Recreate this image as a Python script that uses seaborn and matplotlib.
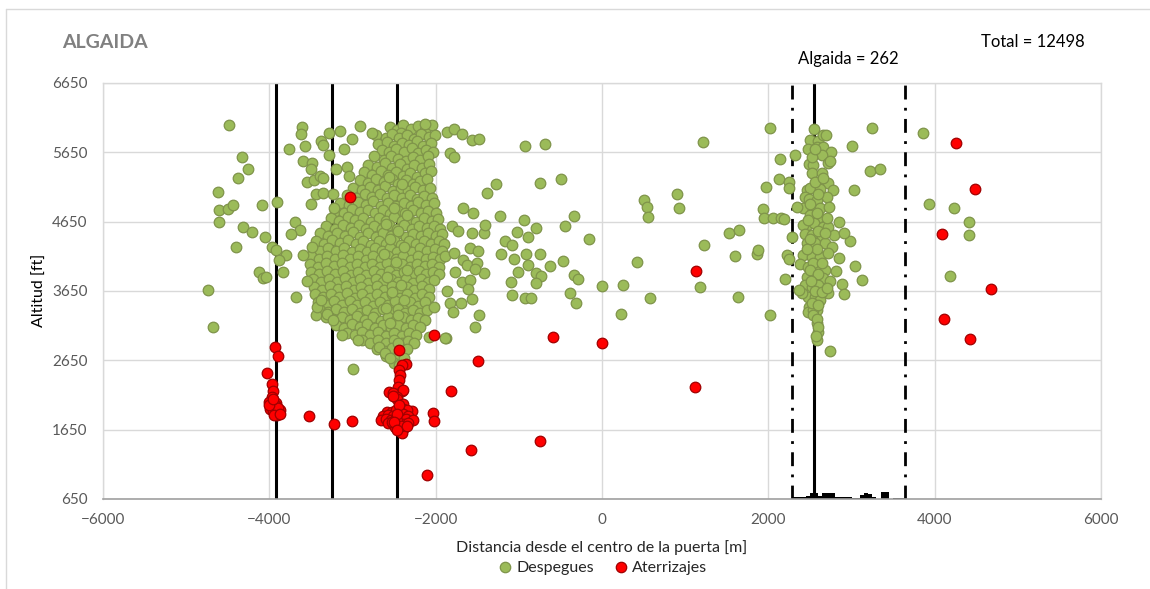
import matplotlib
matplotlib.use("Agg")
import matplotlib.pyplot as plt
import pandas as pd
import seaborn as sns
from matplotlib.lines import Line2D

# ---------------- DATA ----------------
x_ticks = [-6000, -4000, -2000, 0, 2000, 4000, 6000]
y_ticks = [650, 1650, 2650, 3650, 4650, 5650, 6650]
ref_lines = [-3923, -3250, -2467, 2550]
range_lines = [2290, 3646]
hist_left = [2300, 2350, 2400, 2450, 2500, 2550, 2600, 2650, 2700, 2750, 2800, 2850, 2900,
             2950, 3000, 3050, 3100, 3150, 3200, 3250, 3300, 3350, 3400, 3450, 3500, 3550, 3600]
hist_heights = [25, 30, 30, 45, 85, 85, 40, 80, 80, 80, 35, 35, 30,
                25, 15, 20, 60, 90, 70, 25, 0, 95, 95, 0, 15, 15, 15]

# Despegues - dense main cluster
dep_core = [
    (-2555,6010),(-2470,5965),(-2390,6040),(-2300,5990),(-2215,6025),(-2130,5975),(-2045,6050),(-2420,5930),
    (-2715,5905),(-2600,5860),(-2530,5920),(-2445,5850),(-2340,5895),(-2265,5840),(-2175,5910),(-2085,5870),(-2010,5900),
    (-2690,5770),(-2580,5800),(-2495,5745),(-2400,5790),(-2320,5760),(-2230,5810),(-2150,5735),(-2060,5780),
    (-2640,5690),(-2560,5650),(-2475,5700),(-2380,5660),(-2290,5710),(-2210,5640),(-2120,5690),(-2035,5655),
    (-2745,5590),(-2620,5545),(-2535,5600),(-2450,5560),(-2360,5520),(-2275,5580),(-2185,5540),(-2095,5595),
    (-2810,5470),(-2705,5440),(-2605,5490),(-2520,5430),(-2425,5480),(-2345,5415),(-2255,5465),(-2165,5420),(-2075,5480),
    (-2860,5360),(-2770,5320),(-2660,5375),(-2575,5330),(-2480,5370),(-2395,5310),(-2305,5355),(-2220,5300),(-2130,5345),(-2060,5380),
    (-2905,5250),(-2810,5210),(-2715,5265),(-2620,5225),(-2530,5270),(-2450,5200),(-2360,5245),(-2275,5190),(-2185,5235),(-2100,5260),
    (-2995,5140),(-2885,5105),(-2785,5150),(-2690,5110),(-2605,5160),(-2510,5095),(-2420,5135),(-2335,5090),(-2245,5150),(-2150,5110),(-2065,5140),
    (-3065,5030),(-2960,4995),(-2855,5045),(-2760,5005),(-2670,5050),(-2580,4985),(-2495,5035),(-2400,4990),(-2310,5040),(-2225,4980),(-2135,5025),(-2050,4995),
    (-3145,4920),(-3040,4885),(-2935,4935),(-2840,4895),(-2750,4945),(-2655,4880),(-2570,4925),(-2475,4870),(-2385,4915),(-2295,4875),(-2210,4930),(-2120,4890),(-2025,4920),
    (-3205,4810),(-3105,4775),(-3005,4830),(-2910,4785),(-2815,4825),(-2725,4770),(-2630,4815),(-2545,4760),(-2450,4805),(-2365,4770),(-2270,4820),(-2180,4780),(-2090,4810),(-1995,4775),
    (-3255,4700),(-3160,4660),(-3060,4715),(-2965,4670),(-2870,4710),(-2780,4650),(-2685,4700),(-2595,4660),(-2505,4715),(-2410,4655),(-2320,4695),(-2235,4650),(-2140,4705),(-2050,4665),(-1970,4690),
    (-3320,4590),(-3215,4550),(-3120,4600),(-3020,4560),(-2925,4605),(-2835,4545),(-2740,4590),(-2650,4540),(-2560,4595),(-2470,4550),(-2380,4600),(-2290,4545),(-2200,4590),(-2110,4555),(-2020,4585),(-1945,4550),
    (-3390,4480),(-3290,4440),(-3190,4490),(-3095,4450),(-3000,4495),(-2905,4430),(-2815,4480),(-2720,4435),(-2630,4490),(-2540,4440),(-2450,4485),(-2360,4430),(-2270,4475),(-2180,4440),(-2090,4490),(-2000,4445),(-1920,4470),
    (-3440,4370),(-3345,4330),(-3250,4380),(-3150,4340),(-3055,4385),(-2960,4325),(-2870,4370),(-2775,4320),(-2685,4375),(-2595,4330),(-2505,4380),(-2415,4320),(-2325,4365),(-2235,4330),(-2145,4375),(-2055,4335),(-1965,4365),(-1895,4330),
    (-3480,4260),(-3385,4220),(-3290,4270),(-3195,4230),(-3100,4275),(-3005,4215),(-2915,4260),(-2820,4210),(-2730,4265),(-2640,4220),(-2550,4270),(-2460,4215),(-2370,4255),(-2280,4210),(-2190,4265),(-2100,4225),(-2010,4255),(-1925,4220),
    (-3500,4150),(-3405,4110),(-3310,4160),(-3215,4115),(-3120,4165),(-3025,4105),(-2935,4150),(-2840,4100),(-2750,4155),(-2660,4110),(-2570,4160),(-2480,4105),(-2390,4150),(-2300,4100),(-2210,4155),(-2120,4115),(-2030,4145),(-1945,4110),(-1890,4160),
    (-3510,4040),(-3415,4000),(-3320,4050),(-3225,4005),(-3130,4055),(-3035,3995),(-2945,4040),(-2850,3990),(-2760,4045),(-2670,4000),(-2580,4050),(-2490,3995),(-2400,4040),(-2310,3990),(-2220,4045),(-2130,4005),(-2040,4035),(-1960,4000),
    (-3495,3930),(-3400,3890),(-3305,3940),(-3210,3895),(-3115,3945),(-3020,3885),(-2930,3930),(-2835,3880),(-2745,3935),(-2655,3890),(-2565,3940),(-2475,3885),(-2385,3930),(-2295,3880),(-2205,3935),(-2115,3895),(-2030,3925),(-1965,3890),
    (-3470,3820),(-3375,3780),(-3280,3830),(-3185,3785),(-3090,3835),(-2995,3775),(-2905,3820),(-2810,3770),(-2720,3825),(-2630,3780),(-2540,3830),(-2450,3775),(-2360,3820),(-2270,3770),(-2180,3825),(-2095,3785),(-2020,3815),
    (-3460,3710),(-3365,3670),(-3270,3720),(-3175,3675),(-3080,3725),(-2985,3665),(-2895,3710),(-2800,3660),(-2710,3715),(-2620,3670),(-2530,3720),(-2440,3665),(-2350,3710),(-2260,3660),(-2170,3715),(-2085,3675),
    (-3450,3600),(-3355,3560),(-3260,3610),(-3165,3565),(-3070,3615),(-2975,3555),(-2885,3600),(-2790,3550),(-2700,3605),(-2610,3560),(-2520,3610),(-2430,3555),(-2340,3600),(-2250,3550),(-2160,3605),(-2080,3565),
    (-3415,3490),(-3320,3450),(-3225,3500),(-3130,3455),(-3035,3505),(-2940,3445),(-2850,3490),(-2755,3440),(-2665,3495),(-2575,3450),(-2485,3500),(-2395,3445),(-2305,3490),(-2215,3440),(-2130,3485),
    (-3385,3380),(-3290,3340),(-3195,3390),(-3100,3345),(-3005,3395),(-2910,3335),(-2820,3380),(-2725,3330),(-2635,3385),(-2545,3340),(-2455,3390),(-2365,3335),(-2275,3380),(-2185,3330),(-2110,3370),
    (-3320,3270),(-3225,3230),(-3130,3280),(-3035,3235),(-2940,3285),(-2845,3225),(-2755,3270),(-2660,3220),(-2570,3275),(-2480,3230),(-2390,3280),(-2300,3225),(-2210,3265),(-2130,3230),
    (-3200,3160),(-3105,3120),(-3010,3170),(-2915,3125),(-2820,3175),(-2725,3115),(-2635,3160),(-2540,3110),(-2450,3165),(-2360,3120),(-2270,3160),(-2190,3125),
    (-3070,3050),(-2975,3010),(-2880,3060),(-2785,3015),(-2690,3065),(-2595,3005),(-2505,3050),(-2410,3000),(-2320,3045),(-2240,3010),
    (-2880,2940),(-2785,2900),(-2690,2950),(-2595,2905),(-2500,2945),(-2410,2895),(-2330,2935),(-2265,2900),
    (-2710,2820),(-2615,2790),(-2520,2830),(-2430,2785),(-2350,2815),
    (-2600,2710),(-2510,2680),(-2440,2720),(-2380,2690),
    (-2500,2610),(-2440,2580),
    (-2560,5290),(-2410,5190),(-2500,4850),(-2350,4740),(-2600,4620),(-2450,4520),(-2550,4400),(-2380,4290),
    (-2620,4180),(-2480,4070),(-2350,3960),(-2580,3850),(-2420,3740),(-2520,3630),(-2380,3520),(-2600,3410),
    (-2450,3300),(-2550,3190),
]
dep_core_edge = [
    (-3444,3303),(-3421,3423),(-3374,3520),(-3306,3318),(-3236,3231),(-3122,3015),(-2938,2943),(-2684,2846),
    (-2615,2750),(-2546,2678),(-2454,2895),(-2086,2990),(-2016,3423),(-1879,2967),(-2129,6057),
]
dep_left_sparse = [
    (-4484,6039),(-4331,5586),(-4259,5404),(-4371,5279),(-4623,5072),(-4611,4822),(-4499,4832),(-4436,4894),
    (-4604,4640),(-4087,4894),(-3906,4933),(-4315,4568),(-4210,4505),(-4054,4433),(-4403,4288),(-3962,4288),
    (-3922,4245),(-3798,4168),(-3886,4096),(-4123,3928),(-4082,3837),(-4042,3856),(-3841,3923),(-4736,3664),
    (-4676,3135),(-3681,3559),(-3690,4644),(-3633,4529),(-3741,4467),(-3762,5697),(-3609,6010),(-3617,5918),
    (-3577,5745),(-3593,5528),(-3485,5491),(-3504,5409),(-3553,5225),(-3465,5250),(-3441,5044),(-3353,5058),
    (-3504,4904),(-3393,5312),(-3353,5283),(-3489,4288),(-3593,4164),(-3553,3798),(-3384,5817),(-3360,5755),
    (-3280,5932),(-3280,5611),(-3152,5961),(-3104,5693),(-3240,5044),(-3224,4846),(-3200,5409),(-3071,5442),
    (-3047,5308),(-2911,6029),(-3007,5841),(-2771,5932),(-2999,2520),
]
dep_core_right_side = [
    (-1869,5938),(-1780,5981),(-1684,5909),(-1564,5822),(-1484,5837),(-1829,5635),(-1780,5577),(-1387,5067),
    (-1669,4842),(-1548,4770),(-1805,4587),(-1729,4519),(-1564,4481),(-1420,4490),(-1588,4265),(-1488,4230),
    (-1780,4201),(-1669,4096),(-1628,4024),(-1508,4049),(-1768,3928),(-1684,3784),(-1588,3808),(-1420,3913),
    (-1608,3674),(-1861,3654),(-1829,3472),(-1700,3472),(-1789,3351),(-1564,3530),(-1476,3303),(-1528,3126),
    (-1885,2972),
]
dep_mid_sparse = [
    (-926,5736),(-689,5769),(-1278,5188),(-746,5202),(-497,5260),(-1231,4735),(-935,4673),(-333,4735),
    (-1404,4606),(-794,4553),(-445,4587),(-1026,4496),(-887,4428),(-1163,4375),(-1079,4308),(-153,4395),
    (-1211,4187),(-914,4187),(-742,4187),(-1055,4106),(-466,4082),(-894,4029),(-622,4005),(-1528,3971),
    (-1014,3919),(-794,3904),(-737,3870),(-333,3876),(-285,3822),(-1098,3784),(-794,3769),(0,3726),
    (253,3736),(-1079,3596),(-926,3553),(-854,3553),(-385,3616),(-316,3481),(232,3313),(577,3553),
    (505,4957),(541,4856),(549,4721),(902,5052),(930,4842),(417,4068),(1230,4308),(1178,3703),
    (1531,4481),(1644,4529),(1600,4154),(1861,4178),(1881,4240),(1636,3559),(1973,5149),(1941,4832),
    (1949,4698),(2021,3303),(1219,5802),
]
dep_right_cluster = [
    (2550,5985),(2502,5827),(2603,5813),(2663,5894),(2695,5904),(2482,5692),(2591,5731),(2655,5731),
    (2751,5649),(2643,5606),(2723,5500),(2743,5524),(2494,5481),(2542,5467),(2522,5346),(2643,5346),
    (2462,5106),(2502,5130),(2723,5202),(2622,5120),(2783,5106),(2442,5010),(2494,4972),(2591,4962),
    (2703,5000),(2414,4842),(2534,4818),(2622,4842),(2735,4856),(2502,4745),(2615,4721),(2462,4601),
    (2550,4625),(2663,4577),(2723,4577),(2414,4601),(2442,4471),(2522,4457),(2643,4442),(2791,4457),
    (2462,4346),(2562,4346),(2683,4346),(2763,4279),(2422,4169),(2522,4145),(2622,4145),(2723,4193),
    (2382,4039),(2482,4000),(2583,4000),(2683,3952),(2462,3856),(2562,3856),(2663,3832),(2743,3798),
    (2442,3736),(2522,3712),(2603,3736),(2723,3616),(2482,3568),(2562,3568),(2622,3520),(2494,3424),
    (2583,3376),(2482,3352),(2534,3376),(2591,3183),(2603,3063),(2583,2943),(2402,3616),
    (2500,4900),(2580,4780),(2480,4680),(2600,4520),(2500,4400),(2590,4250),(2470,4250),(2540,4060),
    (2640,4060),(2500,3950),(2600,3900),(2510,3800),(2560,3650),(2650,3640),(2520,3480),(2600,3450),
    (2540,3300),(2580,3250),(2600,3130),(2570,3000),(2700,4700),(2680,4480),(2700,3700),(2560,5220),
    (2600,5050),(2660,5280),(2520,5580),(2560,5700),
]
dep_right_sparse = [
    (2021,6004),(3248,6004),(3858,5923),(3004,5740),(2145,5553),(2325,5606),(3220,5384),(3344,5409),
    (2129,5260),(2253,5225),(2245,5135),(3028,5106),(2053,4706),(2153,4706),(2189,4692),(2349,4866),
    (2286,4423),(2222,4173),(2253,4111),(2205,3822),(2366,3664),(2743,2788),(2983,4366),(2855,4121),
    (3047,4010),(3131,3808),(2884,3750),(2908,3606),(2815,3942),(2851,4649),(2915,4490),(3937,4908),
    (4235,4842),(4407,4640),(4407,4452),(4190,3870),
]

# Aterrizajes
arr_left = [
    (-3934,2846),(-3901,2712),(-4034,2462),(-3966,2308),(-3954,2207),(-3962,2125),(-4002,2053),(-3954,2053),
    (-3922,2030),(-3974,1972),(-3914,1943),(-3882,1895),(-3934,1895),(-3906,1861),(-3938,2020),(-3994,2005),
    (-3874,1933),(-3990,1950),(-3950,1920),(-3920,1990),(-3895,1960),(-3945,1860),(-3870,1880),(-4010,2010),
    (-3960,2090),
]
arr_mid = [
    (-2438,2799),(-2362,2592),(-2410,2582),(-2442,2510),(-2430,2438),(-2438,2366),(-2450,2269),(-2410,2212),
    (-2398,2222),(-2559,2188),(-2511,2174),(-2470,2125),(-2462,2088),(-2511,2135),(-2390,2020),(-2438,1972),
    (-2390,1952),(-2289,1923),(-2350,1933),(-2590,1909),(-2530,1909),(-2478,1933),(-2430,1909),(-2631,1847),
    (-2571,1861),(-2511,1847),(-2450,1861),(-2390,1876),(-2330,1847),(-2662,1789),(-2598,1799),(-2542,1789),
    (-2478,1813),(-2422,1799),(-2358,1799),(-2270,1789),(-2571,1741),(-2511,1731),(-2450,1750),(-2390,1731),
    (-2330,1741),(-2490,1693),(-2438,1683),(-2398,1655),(-2530,1765),(-2470,1779),(-2410,1597),(-2440,2000),
    (-2460,1880),(-2420,1700),(-2500,1760),(-2350,1700),(-2460,1640),
]
arr_other = [
    (-3529,1847),(-3221,1727),(-3008,1779),(-2030,1895),(-2021,1779),(-1821,2212),(-1496,2640),(-2021,3015),
    (-1576,1357),(-2109,996),(-741,1491),(-3028,5005),(-593,2990),(0,2900),(1134,3933),(1115,2269),
    (4259,5784),(4483,5120),(4090,4467),(4683,3674),(4110,3250),(4427,2957),
]

# ---------------- PLOT ----------------
sns.set_style("white")
plt.rcParams["font.family"] = ["Lato", "DejaVu Sans"]

dep = pd.DataFrame(dep_core + dep_core_edge + dep_left_sparse + dep_core_right_side
                   + dep_mid_sparse + dep_right_cluster + dep_right_sparse, columns=["x", "y"])
arr = pd.DataFrame(arr_left + arr_mid + arr_other, columns=["x", "y"])
hist = pd.DataFrame({"left": hist_left, "h": hist_heights})

W, H = 1150, 589
fig = plt.figure(figsize=(W / 100, H / 100), dpi=100)
ax = fig.add_axes([103 / W, 1 - 499 / H, 998 / W, 416 / H])

green, green_edge = "#9BBB59", "#7F944A"
red, red_edge = "#FF0000", "#A00000"

for xv in ref_lines:
    ax.axvline(xv, color="black", lw=2.2, zorder=2)
for xv in range_lines:
    ax.axvline(xv, color="black", lw=2.0, ls=(0, (5, 3, 1, 3)), zorder=2)
ax.bar(hist["left"], hist["h"], width=50, bottom=650, align="edge", color="black",
       linewidth=0, zorder=2)

sns.scatterplot(data=dep, x="x", y="y", ax=ax, s=58, color=green, edgecolor=green_edge,
                linewidth=0.9, zorder=3, legend=False)
sns.scatterplot(data=arr, x="x", y="y", ax=ax, s=58, color=red, edgecolor=red_edge,
                linewidth=0.9, zorder=4, legend=False)

ax.set_xlim(-6000, 6000)
ax.set_ylim(650, 6650)
ax.set_xticks(x_ticks)
ax.set_yticks(y_ticks)
ax.grid(True, color="#D9D9D9", lw=1)
ax.set_axisbelow(True)
for s in ["top", "right", "left"]:
    ax.spines[s].set_color("#D9D9D9")
    ax.spines[s].set_linewidth(1)
ax.spines["bottom"].set_color("#A0A0A0")
ax.spines["bottom"].set_linewidth(1.2)
ax.tick_params(axis="x", length=3, width=1, color="#A0A0A0", labelcolor="#595959",
               labelsize=11, pad=7)
ax.tick_params(axis="y", length=0, labelcolor="#595959", labelsize=11, pad=11)
ax.set_xlabel("")
ax.set_ylabel("")

fig.text(602 / W, 1 - 548 / H, "Distancia desde el centro de la puerta [m]", ha="center",
         va="center", fontsize=11.5, color="#262626")
fig.text(40 / W, 1 - 290 / H, "Altitud [ft]", ha="center", va="center", rotation=90,
         fontsize=11.5, color="black")
fig.text(62 / W, 1 - 42 / H, "ALGAIDA", ha="left", va="center", fontsize=14,
         fontweight="bold", color="#808080")
fig.text(1085 / W, 1 - 42 / H, "Total = 12498", ha="right", va="center", fontsize=12,
         color="black")
fig.text(848 / W, 1 - 59 / H, "Algaida = 262", ha="center", va="center", fontsize=12,
         color="black")

handles = [
    Line2D([], [], marker="o", ls="", markersize=7.5, markerfacecolor=green,
           markeredgecolor=green_edge, markeredgewidth=0.9),
    Line2D([], [], marker="o", ls="", markersize=7.5, markerfacecolor=red,
           markeredgecolor=red_edge, markeredgewidth=0.9),
]
fig.legend(handles, ["Despegues", "Aterrizajes"], loc="center",
           bbox_to_anchor=(602 / W, 1 - 568 / H), ncol=2, frameon=False, fontsize=11.5,
           handletextpad=0.2, columnspacing=1.2, handlelength=1.0)

# chart-area border
fig.add_artist(Line2D([6 / W, 1], [1 - 9 / H, 1 - 9 / H], transform=fig.transFigure,
                      color="#D9D9D9", lw=1))
fig.add_artist(Line2D([6 / W, 6 / W], [0, 1 - 9 / H], transform=fig.transFigure,
                      color="#D9D9D9", lw=1))

fig.savefig("out.png", dpi=100)
